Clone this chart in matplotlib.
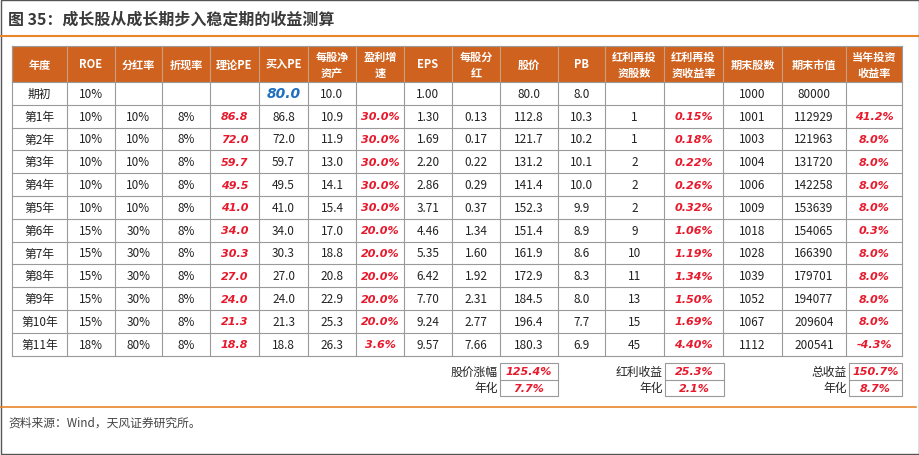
import matplotlib
matplotlib.use("Agg")
import matplotlib.pyplot as plt
from matplotlib.patches import Rectangle

plt.rcParams['font.family'] = ['Noto Sans CJK SC', 'DejaVu Sans']

headers = ["年度", "ROE", "分红率", "折现率", "理论PE", "买入PE", "每股净\n资产", "盈利增\n速", "EPS", "每股分\n红",
           "股价", "PB", "红利再投\n资股数", "红利再投\n资收益率", "期末股数", "期末市值", "当年投资\n收益率"]
years = ["期初"] + [f"第{i}年" for i in range(1, 12)]
roe = ["10%"] * 6 + ["15%"] * 5 + ["18%"]
payout = [""] + ["10%"] * 5 + ["30%"] * 5 + ["80%"]
discount = [""] + ["8%"] * 11
theory_pe = ["", "86.8", "72.0", "59.7", "49.5", "41.0", "34.0", "30.3", "27.0", "24.0", "21.3", "18.8"]
buy_pe = ["80.0", "86.8", "72.0", "59.7", "49.5", "41.0", "34.0", "30.3", "27.0", "24.0", "21.3", "18.8"]
bvps = ["10.0", "10.9", "11.9", "13.0", "14.1", "15.4", "17.0", "18.8", "20.8", "22.9", "25.3", "26.3"]
growth = ["", "30.0%", "30.0%", "30.0%", "30.0%", "30.0%", "20.0%", "20.0%", "20.0%", "20.0%", "20.0%", "3.6%"]
eps = ["1.00", "1.30", "1.69", "2.20", "2.86", "3.71", "4.46", "5.35", "6.42", "7.70", "9.24", "9.57"]
dps = ["", "0.13", "0.17", "0.22", "0.29", "0.37", "1.34", "1.60", "1.92", "2.31", "2.77", "7.66"]
price = ["80.0", "112.8", "121.7", "131.2", "141.4", "152.3", "151.4", "161.9", "172.9", "184.5", "196.4", "180.3"]
pb = ["8.0", "10.3", "10.2", "10.1", "10.0", "9.9", "8.9", "8.6", "8.3", "8.0", "7.7", "6.9"]
reinv_shares = ["", "1", "1", "2", "2", "2", "9", "10", "11", "13", "15", "45"]
reinv_ret = ["", "0.15%", "0.18%", "0.22%", "0.26%", "0.32%", "1.06%", "1.19%", "1.34%", "1.50%", "1.69%", "4.40%"]
end_shares = ["1000", "1001", "1003", "1004", "1006", "1009", "1018", "1028", "1039", "1052", "1067", "1112"]
end_value = ["80000", "112929", "121963", "131720", "142258", "153639", "154065", "166390", "179701", "194077", "209604", "200541"]
annual_ret = ["", "41.2%", "8.0%", "8.0%", "8.0%", "8.0%", "0.3%", "8.0%", "8.0%", "8.0%", "8.0%", "-4.3%"]
summary_labels = [("股价涨幅", "年化"), ("红利收益", "年化"), ("总收益", "年化")]
summary_values = [("125.4%", "7.7%"), ("25.3%", "2.1%"), ("150.7%", "8.7%")]

columns = [years, roe, payout, discount, theory_pe, buy_pe, bvps, growth, eps, dps, price, pb,
           reinv_shares, reinv_ret, end_shares, end_value, annual_ret]
red_cols = {4, 7, 13, 16}

W, H = 920, 456
fig = plt.figure(figsize=(W / 100, H / 100), dpi=100)
ax = fig.add_axes([0, 0, 1, 1])
ax.set_xlim(0, W)
ax.set_ylim(H, 0)
ax.axis('off')

orange = '#D0621F'
red = '#E8192C'
grid = '#9A9A9A'

ax.text(8, 20, "图 35：成长股从成长期步入稳定期的收益测算", fontsize=11.5, fontweight='bold',
        color='#3a3a3a', va='center', ha='left')
ax.plot([0, W], [37, 37], color='#E8862A', lw=1.5)

xs = [12, 67, 115, 162, 210, 259, 308, 356, 404, 452, 500, 558, 605, 664, 723, 782, 846, 902]
hy0, hy1 = 47, 83
rh = 22.8

ax.add_patch(Rectangle((xs[0], hy0), xs[-1] - xs[0], hy1 - hy0, color=orange, lw=0))
for j, h in enumerate(headers):
    cx = (xs[j] + xs[j + 1]) / 2
    ax.text(cx, (hy0 + hy1) / 2, h, color='white', fontsize=8, fontweight='bold',
            ha='center', va='center', linespacing=1.3)
    ax.plot([xs[j], xs[j]], [hy0, hy1], color='#C8A080', lw=0.8)

ybot = hy1 + rh * len(years)
for i in range(len(years) + 1):
    y = hy1 + i * rh
    ax.plot([xs[0], xs[-1]], [y, y], color=grid, lw=0.8)
for x in xs:
    ax.plot([x, x], [hy1, ybot], color=grid, lw=0.8)
ax.plot([xs[0], xs[-1]], [hy0, hy0], color=grid, lw=0.8)
ax.plot([xs[0], xs[0]], [hy0, hy1], color=grid, lw=0.8)
ax.plot([xs[-1], xs[-1]], [hy0, hy1], color=grid, lw=0.8)

for i in range(len(years)):
    cy = hy1 + (i + 0.5) * rh
    for j, col in enumerate(columns):
        v = col[i]
        if not v:
            continue
        cx = (xs[j] + xs[j + 1]) / 2
        if j in red_cols:
            ax.text(cx, cy, v, color=red, fontsize=8, fontweight='bold', style='italic',
                    ha='center', va='center', family='DejaVu Sans')
        elif j == 5 and i == 0:
            ax.text(cx, cy, v, color='#1F6FC0', fontsize=10, fontweight='bold', style='italic',
                    ha='center', va='center', family='DejaVu Sans')
        else:
            ax.text(cx, cy, v, color='#222222', fontsize=8.5, ha='center', va='center')

boxes = [(500, 558), (665, 724), (849, 902)]
sy0, sy1 = 364, 397
sm = (sy0 + sy1) / 2
for (bx0, bx1), labs, vals in zip(boxes, summary_labels, summary_values):
    ax.add_patch(Rectangle((bx0, sy0), bx1 - bx0, sy1 - sy0, fill=False, ec=grid, lw=0.8))
    ax.plot([bx0, bx1], [sm, sm], color=grid, lw=0.8)
    for k in range(2):
        cy = (sy0 + sm) / 2 if k == 0 else (sm + sy1) / 2
        ax.text(bx0 - 2, cy, labs[k], fontsize=8.5, ha='right', va='center', color='#222222')
        ax.text((bx0 + bx1) / 2, cy, vals[k], fontsize=8, color=red, fontweight='bold',
                style='italic', ha='center', va='center', family='DejaVu Sans')

ax.plot([0, W - 4], [408, 408], color='#E8862A', lw=1.2)
ax.text(8, 423, "资料来源：Wind，天风证券研究所。", fontsize=8.5, color='#444444', ha='left', va='center')
ax.add_patch(Rectangle((1, 1), W - 2, H - 2, fill=False, ec='#555555', lw=1))

fig.savefig("out.png", dpi=100)
